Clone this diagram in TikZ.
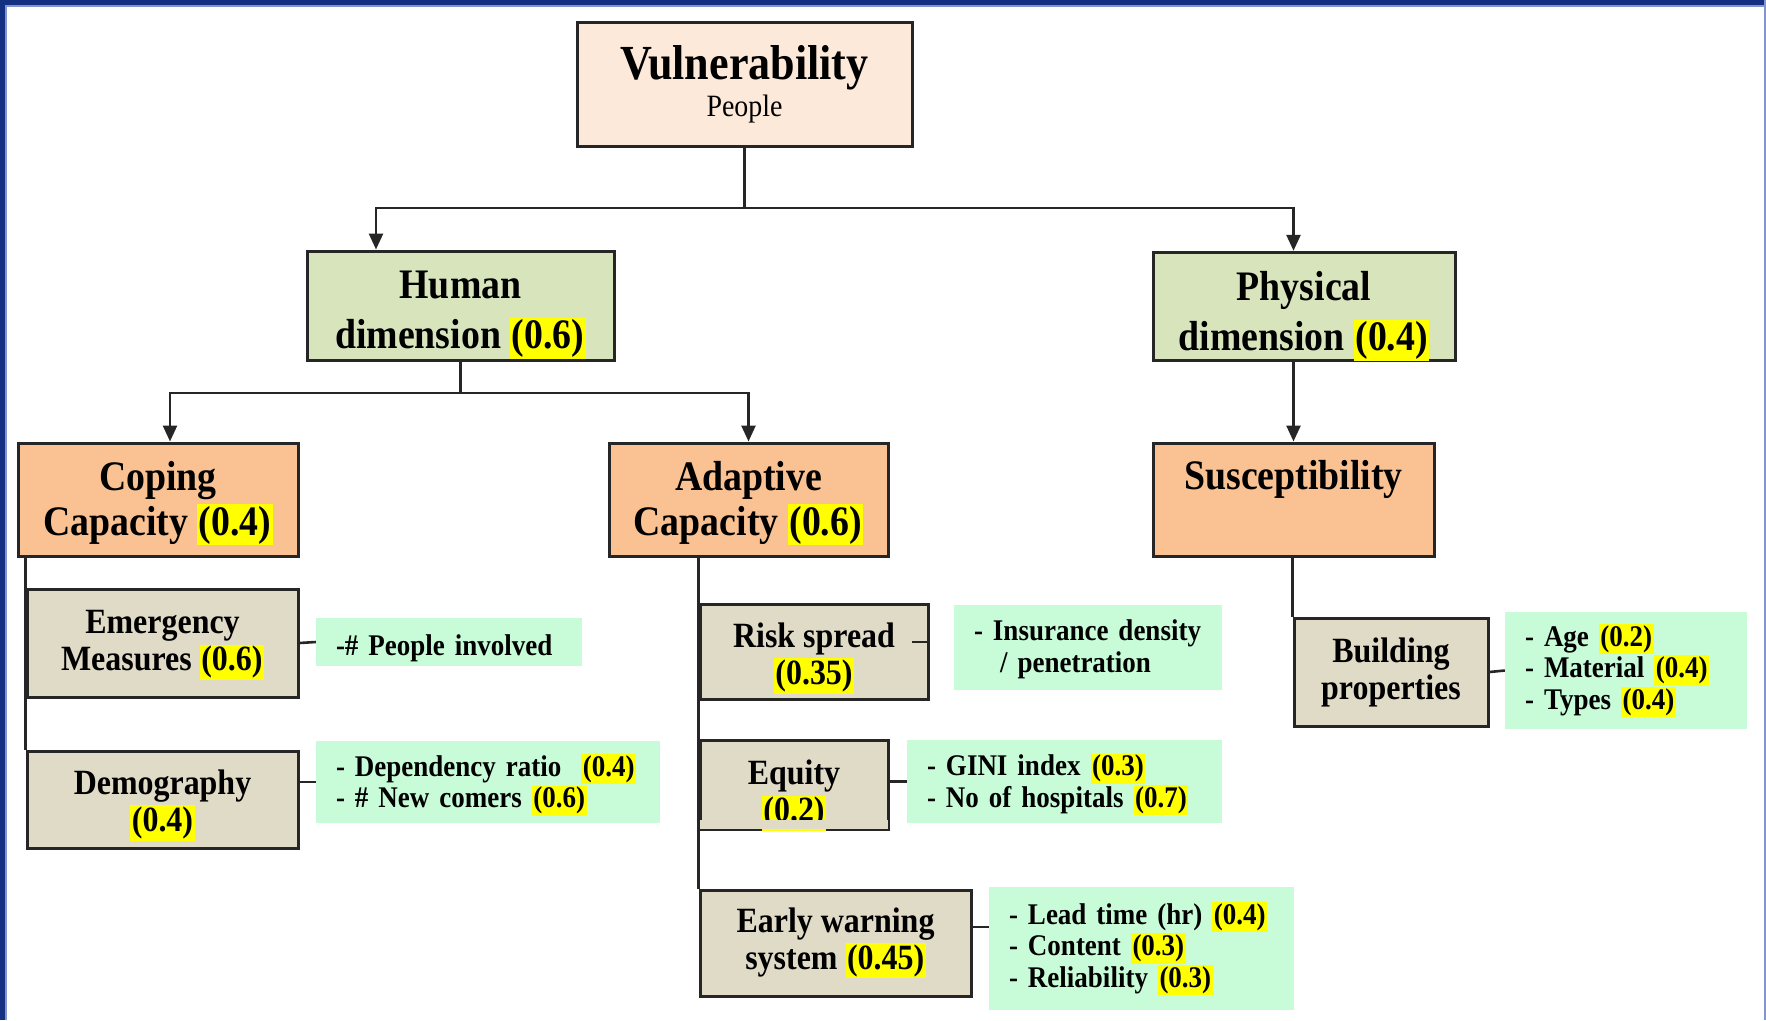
\documentclass[tikz,border=0pt]{standalone}
\usepackage{fontspec}
\setmainfont{Liberation Serif}[FakeStretch=0.9]
\usetikzlibrary{arrows.meta}

\definecolor{frameblue}{RGB}{20,48,128}
\definecolor{framelight}{RGB}{130,150,205}
\definecolor{vulfill}{RGB}{253,233,217}
\definecolor{dimfill}{RGB}{216,228,188}
\definecolor{capfill}{RGB}{250,194,146}
\definecolor{subfill}{RGB}{224,219,199}
\definecolor{notefill}{RGB}{200,252,216}
\definecolor{hlyellow}{RGB}{255,255,0}
\definecolor{edge}{RGB}{38,38,38}

% yellow marker behind the weights
\newcommand{\hl}[1]{{\setlength{\fboxsep}{1.5pt}\colorbox{hlyellow}{#1}}}
% invisible strut that lowers a text block inside its box
\newcommand{\dropto}[1]{\rule{0pt}{#1}}

\begin{document}
\begin{tikzpicture}[x=1pt,y=-1pt,
  box/.style={draw=edge, line width=3pt, inner sep=0pt, align=center},
  topbox/.style={box, fill=vulfill, font=\fontsize{31}{37}\selectfont},
  dimbox/.style={box, fill=dimfill, font=\fontsize{42}{50}\selectfont\bfseries},
  capbox/.style={box, fill=capfill, font=\fontsize{42}{45}\selectfont\bfseries},
  subbox/.style={box, fill=subfill, font=\fontsize{35.5}{37}\selectfont\bfseries},
  subtext/.style={inner sep=0pt, align=center, font=\fontsize{35.5}{37}\selectfont\bfseries},
  notebox/.style={fill=notefill, inner xsep=20pt, inner ysep=0pt, align=left,
    font=\fontsize{30}{31.5}\selectfont\bfseries},
  link/.style={draw=edge, line width=2.6pt},
  arrow/.style={link, -{Triangle[length=16pt,width=14pt]}}
]
\useasboundingbox (0,0) rectangle (1766,1020);
\fill[white] (0,0) rectangle (1766,1020);

% frame
\fill[framelight] (0,0) rectangle (6.5,1020);
\fill[framelight] (0,0) rectangle (1766,6.5);
\fill[frameblue] (0,0) rectangle (5,1020);
\fill[frameblue] (0,0) rectangle (1766,5);
\fill[framelight] (1763.5,0) rectangle (1766,1020);

% top level
\node[topbox, minimum width=335pt, minimum height=124pt] (vul) at (744.5,84)
  {{\fontsize{49}{37}\selectfont\bfseries Vulnerability}\\People};

% dimensions
\node[dimbox, minimum width=307pt, minimum height=109pt] (human) at (460.5,305.5)
  {\dropto{46pt}Human\\dimension \hl{(0.6)}};
\node[dimbox, minimum width=302pt, minimum height=107pt] (physical) at (1304,306.5)
  {\dropto{48pt}Physical\\dimension \hl{(0.4)}};

% components
\node[capbox, minimum width=280pt, minimum height=113pt] (coping) at (158,499.5)
  {\dropto{36.5pt}Coping\\Capacity \hl{(0.4)}};
\node[capbox, minimum width=279pt, minimum height=113pt] (adaptive) at (748.5,499.5)
  {\dropto{36.5pt}Adaptive\\Capacity \hl{(0.6)}};
\node[capbox, minimum width=281pt, minimum height=113pt] (susc) at (1293.5,499.5)
  {\dropto{34.5pt}Susceptibility\\\phantom{(0.4)}};

% coping capacity indicators
\node[subbox, minimum width=271pt, minimum height=108pt] (emerg) at (162.5,643)
  {\dropto{27.5pt}Emergency\\Measures \hl{(0.6)}};
\node[subbox, minimum width=271pt, minimum height=97pt] (demog) at (162.5,799.5)
  {\dropto{36pt}Demography\\\hl{(0.4)}};

% adaptive capacity indicators
\node[subbox, minimum width=228pt, minimum height=95pt] (risk) at (814,651.5)
  {\dropto{38pt}Risk spread\\\hl{(0.35)}};
\node[subbox, minimum width=188pt, minimum height=89pt] (equity) at (794,784.5) {};
\node[subtext] (equitytxt) at ([yshift=-11pt]equity.center) {Equity\\\hl{(0.2)}};
\fill[subfill] ([xshift=1.5pt,yshift=1.5pt]equity.south west)
  rectangle ([xshift=-1.5pt,yshift=11pt]equity.south east);
\node[subbox, minimum width=271pt, minimum height=106pt] (ews) at (835.5,943)
  {Early warning\\system \hl{(0.45)}};

% susceptibility indicator
\node[subbox, minimum width=194pt, minimum height=108pt] (bp) at (1391,672)
  {Building\\properties};

% variables
\node[notebox, text width=226pt, minimum height=48pt] (nPeople) at (449,642)
  {\dropto{32.5pt}-\# People involved};
\node[notebox, text width=304pt, minimum height=82pt] (nDemog) at (488,782)
  {\dropto{28.2pt}- Dependency ratio \ \hl{(0.4)}\\- \# New comers \hl{(0.6)}};
\node[notebox, text width=228pt, minimum height=85pt] (nRisk) at (1088,647.5)
  {\dropto{24.3pt}- Insurance density\\\hspace*{26pt}/ penetration};
\node[notebox, text width=275pt, minimum height=83pt] (nEquity) at (1064.5,781.5)
  {\dropto{28.2pt}- GINI index \hl{(0.3)}\\- No of hospitals \hl{(0.7)}};
\node[notebox, text width=265pt, minimum height=123pt] (nEws) at (1141.5,948.5)
  {- Lead time (hr) \hl{(0.4)}\\- Content \hl{(0.3)}\\- Reliability \hl{(0.3)}};
\node[notebox, text width=202pt, minimum height=117pt] (nBuild) at (1626,670.5)
  {- Age \hl{(0.2)}\\- Material \hl{(0.4)}\\- Types \hl{(0.4)}};

% hierarchy connectors
\coordinate (j1) at (744.5,208);
\coordinate (j2) at (460.5,393);
\draw[link] (vul.south) -- (j1);
\draw[arrow] (j1) -| ([xshift=-84.5pt]human.north);
\draw[arrow] (j1) -| (susc.north |- physical.north);
\draw[arrow] (susc.north |- physical.south) -- (susc.north);
\draw[link] (human.south) -- (j2);
\draw[arrow] (j2) -| ([xshift=12pt]coping.north);
\draw[arrow] (j2) -| (adaptive.north);

% indicator trunks
\draw[link] (coping.south -| demog.north west) -- (demog.north west);
\draw[link] (adaptive.south -| ews.north west) -- (ews.north west);
\draw[link] (susc.south -| bp.north west) -- (bp.north west);

% indicator to variable ties
\draw[link] (emerg.east) -- (nPeople.west);
\draw[link] (demog.east |- nDemog.west) -- (nDemog.west);
\draw[link] ([yshift=9.5pt]risk.east) -- ++(-18,0);
\draw[link] (equity.east |- nEquity.west) -- (nEquity.west);
\draw[link] ([yshift=16pt]ews.east) -- ([yshift=16pt]ews.east -| nEws.west);
\draw[link] (bp.east) -- (nBuild.west);
\end{tikzpicture}
\end{document}
